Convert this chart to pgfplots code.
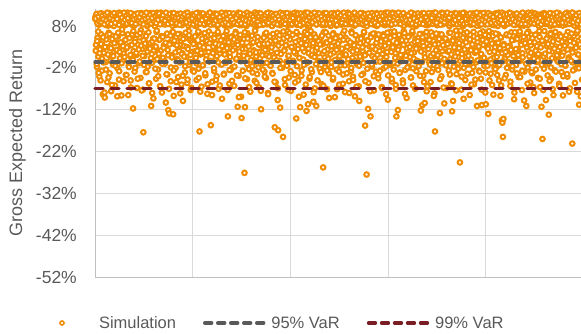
\documentclass[border=0pt]{standalone}
\usepackage{pgfplots}
\usepackage{pgfplotstable}
\pgfplotsset{compat=1.18}
\usepackage{fontspec}
\setmainfont{Liberation Sans}
\definecolor{simorange}{RGB}{240,140,0}
\definecolor{vargray}{RGB}{89,89,89}
\definecolor{varred}{RGB}{122,30,38}
\definecolor{txtgray}{RGB}{89,89,89}
\definecolor{gridgray}{RGB}{217,217,217}
\definecolor{axisgray}{RGB}{191,191,191}
\pgfplotstableread{
y
10.2
3.5
9.4
-1.8
5.2
10.9
0.7
8.3
-4.1
2.4
9.8
6.1
11.0
-2.7
4.3
-8.3
8.9
1.6
10.5
-9.1
9.2
-0.6
4.8
10.7
-5.4
2.9
8.1
6.4
11.1
-3.3
0.9
9.6
-7.6
3.8
10.3
5.7
-1.2
8.7
1.9
10.0
-6.2
4.0
9.0
2.2
10.8
-2.1
5.5
8.4
-4.8
11.2
0.3
9.5
3.1
-8.6
10.1
6.3
-0.4
8.0
1.4
9.9
4.5
10.6
-3.7
2.6
9.3
5.9
10.4
-8.5
-1.5
8.6
3.3
11.0
-5.0
0.5
9.7
6.0
8.2
-11.7
2.0
10.2
-2.9
9.1
4.9
10.9
1.1
-6.8
8.8
3.6
10.0
-0.9
5.3
9.4
-4.4
7.0
11.1
2.5
8.5
-7.2
-17.4
10.3
0.8
9.6
4.2
-3.0
10.7
6.2
8.0
-1.7
2.8
10.5
-5.7
9.2
3.9
11.0
-11.1
1.3
-8.0
8.9
5.0
9.8
-0.2
10.4
3.0
8.3
-4.6
6.6
11.2
1.8
-2.4
9.0
4.7
10.1
-6.4
2.1
8.7
5.6
-7.9
10.8
0.4
9.5
3.4
10.0
-1.0
8.4
-10.3
5.8
9.7
-3.6
2.3
-12.1
10.6
-12.9
4.1
9.1
-5.2
1.0
11.0
6.5
8.1
-13.1
-8.7
9.9
3.7
10.2
-2.0
5.4
8.6
0.1
10.9
-4.2
2.7
9.3
6.1
-0.7
10.5
4.4
-6.0
8.2
1.5
-9.9
10.4
3.2
9.0
-3.1
5.1
11.1
0.6
8.8
-5.6
2.9
9.6
6.8
-1.3
10.1
4.6
-7.3
8.5
1.7
10.7
-2.6
9.4
4.3
10.8
-0.3
2.0
8.0
5.7
-4.9
9.9
3.5
10.3
-2.2
6.4
-17.2
8.7
1.2
11.0
-6.5
4.0
9.2
-1.4
10.6
2.6
8.3
5.2
-3.8
9.7
0.9
10.0
-8.2
3.9
8.9
6.7
-0.5
11.2
4.8
-15.7
9.1
1.9
-5.3
10.5
3.1
8.4
-2.8
5.9
10.2
0.2
9.5
-4.0
2.4
10.9
6.2
-7.0
8.6
1.4
9.8
-1.1
4.5
10.4
-9.4
9.0
5.0
10.7
-3.4
2.1
8.1
6.0
-0.8
11.1
3.6
9.3
-13.6
4.7
10.0
-5.8
1.6
8.8
-2.5
5.5
9.6
-1.9
10.3
3.3
8.5
-6.3
2.8
10.8
6.6
0.0
9.1
4.2
-11.3
11.0
-3.9
1.1
8.2
5.3
9.9
-8.9
-14.0
10.1
2.5
9.4
-0.1
4.9
-27.1
-11.4
10.6
3.0
8.0
-4.7
6.3
9.7
1.3
-2.3
10.9
5.6
-7.7
8.7
3.8
9.2
-1.6
10.4
4.1
2.2
8.4
-5.1
6.9
11.2
0.7
9.0
-3.5
5.4
10.2
1.8
-6.7
8.9
3.4
9.8
-11.9
10.7
4.6
-0.9
8.3
2.7
9.5
-2.9
6.1
10.0
-4.4
1.0
11.1
5.8
-8.0
8.6
3.2
9.3
-1.2
4.4
10.5
2.0
8.1
-3.2
9.9
5.2
10.8
0.5
-16.2
8.8
-5.5
3.7
10.1
6.4
-9.7
-16.9
9.4
1.7
-0.3
-11.5
10.6
4.0
9.0
-2.0
8.5
-18.5
5.0
11.0
2.3
-6.1
9.7
3.5
10.3
-1.5
6.8
8.2
0.8
-4.3
10.9
4.8
9.1
-7.5
2.9
10.4
5.9
8.7
-0.6
9.6
3.1
-3.7
11.2
1.4
-14.1
8.3
6.2
10.0
-5.0
4.5
9.3
0.3
-11.4
10.2
3.9
-2.6
8.9
5.6
10.7
-8.4
1.9
9.5
6.6
-1.0
10.1
-12.3
4.3
8.0
-10.7
2.6
9.8
-4.6
11.0
5.3
8.6
0.9
-3.0
10.5
3.3
-10.1
9.2
6.0
-6.9
10.8
2.1
-11.1
8.4
4.7
9.9
-0.4
1.5
10.3
-2.2
9.0
5.1
10.6
-5.9
3.6
8.2
-25.8
6.5
11.1
0.6
-1.8
9.4
4.1
10.0
-7.1
2.4
8.8
5.7
-3.3
9.7
10.9
1.2
8.5
-0.7
4.9
10.2
-4.8
6.3
9.1
2.8
-9.0
10.7
3.4
8.1
-2.4
5.5
11.2
0.2
9.6
-6.0
4.4
9.3
-1.4
10.4
2.2
8.7
6.1
-3.6
10.0
1.0
9.8
-7.8
5.2
11.0
3.0
-0.9
8.4
4.6
10.6
-5.2
8.9
2.5
10.1
-2.7
6.7
9.5
0.4
-4.1
10.8
3.7
8.2
-8.8
5.8
9.2
1.6
-1.1
10.3
4.2
8.6
-6.4
-9.9
10.5
3.9
9.0
-0.2
5.4
11.1
2.0
-3.4
8.3
6.4
9.7
-15.8
1.3
10.2
-27.5
4.6
8.8
-11.8
-5.6
10.0
3.1
9.4
-13.6
5.9
10.9
-1.7
0.8
8.5
2.7
-7.4
9.9
6.2
10.4
-2.9
4.0
8.0
1.1
9.1
-4.5
10.6
5.0
-0.5
8.7
3.5
11.0
-6.6
2.3
9.3
6.0
-2.1
10.1
0.3
8.2
4.8
-8.3
9.8
1.8
10.7
-3.8
9.5
4.1
10.3
-1.3
6.6
8.4
2.6
-5.3
11.2
3.3
9.0
-0.8
5.6
10.5
1.5
-7.0
-13.6
8.9
4.3
-12.1
10.0
2.9
8.6
-3.1
5.3
9.6
-0.1
10.8
3.8
-5.0
8.1
6.8
9.2
1.2
-2.5
10.4
4.5
-9.2
8.8
2.1
9.7
-1.9
10.2
5.7
0.6
8.3
-4.3
3.6
11.1
6.3
-6.2
9.4
1.7
10.6
-0.4
4.9
8.0
-2.8
9.9
3.0
10.9
5.2
-1.0
8.5
2.4
9.1
-12.2
6.1
10.3
-10.9
4.0
-3.9
8.7
1.4
-10.4
9.6
5.5
10.1
-7.6
2.8
8.2
4.7
10.7
-0.6
3.2
9.3
-5.4
6.5
11.0
1.0
8.9
-2.3
4.4
10.0
-8.1
-17.2
9.5
2.2
5.8
10.5
-1.6
8.6
3.7
10.2
6.0
-12.8
9.0
0.5
-4.0
11.2
2.0
8.4
5.1
-0.2
-10.5
9.8
3.4
10.6
-6.8
4.6
9.2
1.9
10.4
-2.6
6.4
8.1
0.1
9.7
-5.7
3.9
-12.4
10.8
-9.9
5.0
8.7
-1.4
2.5
9.1
6.9
-3.5
10.1
4.3
8.5
-0.9
2.7
11.0
-24.6
5.7
9.4
-7.2
1.3
10.3
3.6
8.0
-2.0
6.2
9.9
-4.9
0.7
10.7
4.8
8.8
-1.2
9.5
2.2
10.0
-8.5
5.9
8.3
0.0
10.9
-3.2
3.1
9.2
6.6
-5.9
10.5
1.6
8.6
-0.7
9.6
-11.1
4.2
10.2
2.6
-2.7
8.1
5.4
11.1
-4.6
0.9
-10.9
9.0
6.7
3.5
10.6
-1.5
8.4
-7.9
-10.7
10.0
3.0
9.3
-0.4
-13.0
5.6
10.8
1.8
8.7
-3.4
4.5
9.8
-6.1
6.3
10.4
0.4
8.2
-2.1
2.9
9.1
11.0
4.0
-1.7
8.9
6.0
10.3
-5.0
2.3
9.5
-8.7
5.2
10.7
-14.5
-15.1
-18.5
-14.2
3.7
8.0
0.2
9.7
-3.7
10.1
5.8
8.5
1.1
9.2
-0.8
11.2
3.3
-6.3
8.8
6.5
10.6
-2.4
2.0
9.4
4.7
-9.5
10.0
0.6
8.3
-1.3
9.9
5.3
10.5
2.5
-4.2
8.6
6.1
9.0
-0.3
3.9
10.8
-7.3
1.5
9.6
4.6
8.1
-2.9
10.2
5.0
9.3
-11.1
2.8
10.9
-1.9
6.7
8.4
0.8
10.0
-5.5
3.4
9.7
5.9
-3.3
11.1
1.4
8.7
-8.0
4.1
10.4
2.1
8.9
-0.6
6.2
9.5
-4.4
3.6
10.7
5.4
-6.6
8.2
1.0
-11.3
9.1
-19.0
4.4
10.1
-2.2
6.8
8.6
0.3
-9.7
10.6
3.2
9.2
-1.0
5.7
-13.2
10.3
2.6
8.0
-4.7
6.4
11.0
1.9
-7.1
9.8
4.9
8.5
-2.6
10.0
3.1
9.4
5.5
-0.2
10.8
2.2
8.3
-5.8
6.0
9.7
0.9
10.5
-3.0
4.3
8.8
-8.6
1.7
9.1
10.2
5.1
-1.5
8.4
3.8
11.2
-4.1
6.6
9.0
0.5
10.6
-6.9
2.4
8.7
4.7
9.6
-20.1
-0.7
10.1
5.6
8.1
-2.3
9.3
3.0
10.9
6.3
-7.7
1.2
9.9
4.5
-10.8
8.6
-0.4
10.4
2.9
5.2
-4.8
9.2
6.9
10.0
9.7
2.1
10.6
-1.1
4.4
8.5
6.7
-3.2
10.1
1.5
9.2
-5.0
3.7
11.0
0.2
8.8
5.3
-0.7
9.9
-7.9
3.0
10.4
-2.4
8.2
5.8
9.5
1.2
-4.3
10.9
6.1
8.6
-0.3
2.7
9.1
-6.1
4.9
10.3
0.8
8.0
3.9
10.7
-1.5
5.5
9.3
2.3
-8.8
8.9
6.4
11.1
-2.8
1.8
9.8
4.1
10.2
-0.9
7.2
8.4
3.2
-5.2
9.6
0.6
10.0
4.7
8.3
-3.7
2.9
11.2
6.0
9.0
-1.8
5.1
10.5
1.1
-6.7
8.7
3.5
9.4
-0.1
6.8
10.8
8.1
4.2
-2.0
9.7
1.6
10.3
5.9
-4.6
8.9
2.4
11.0
-0.5
6.3
9.2
3.3
-7.4
10.6
0.9
8.5
4.6
-1.3
9.5
3.8
10.1
5.6
-3.0
8.2
1.9
10.8
6.5
-5.7
9.0
2.6
11.1
0.3
8.6
-0.8
4.3
9.9
-9.3
10.4
5.0
8.0
-2.2
3.1
9.6
6.9
0.1
10.2
-4.0
1.4
8.8
4.8
-6.4
11.2
2.2
9.3
-1.0
5.4
10.0
2.8
8.4
-0.4
10.7
4.0
9.1
-3.5
6.2
8.7
1.0
10.5
-7.0
3.6
9.8
5.7
-1.9
11.0
0.5
8.1
6.6
9.4
-2.6
4.5
10.9
1.7
8.3
-5.4
3.4
10.1
6.1
-0.2
9.7
2.0
8.5
-8.1
5.2
10.4
1.3
9.0
-3.9
4.9
10.6
0.7
8.9
-1.6
6.4
9.2
3.0
11.1
-4.8
2.5
8.0
5.8
10.3
-0.6
1.1
9.5
-6.8
4.2
10.8
8.6
3.7
-2.9
9.9
5.5
10.2
0.4
-0.9
8.2
2.1
11.2
6.7
-4.4
9.4
3.3
-7.7
10.7
1.6
8.8
5.0
-1.4
9.1
2.9
10.0
6.3
-3.3
8.5
0.0
10.6
4.4
-5.9
9.7
1.8
11.0
3.9
-0.3
8.3
6.0
9.2
-8.5
10.1
1.5
8.9
-2.1
5.1
9.6
3.8
-4.9
10.9
0.8
8.0
6.6
-0.7
9.3
2.4
-6.2
10.5
4.6
8.7
-1.2
3.2
10.8
5.6
-3.6
9.0
1.2
11.1
-0.5
8.4
6.8
2.7
-7.3
9.8
4.1
10.3
-2.5
0.6
8.1
5.3
9.5
-5.1
10.0
2.2
8.6
4.8
-1.7
9.4
6.2
10.7
0.2
-3.8
8.9
3.5
11.2
-9.0
1.9
9.1
5.9
-0.4
10.4
8.2
4.0
-2.7
9.7
0.9
10.1
6.5
-4.5
8.5
2.6
11.0
-1.1
5.0
9.3
3.1
-6.6
10.6
1.4
8.8
-0.1
9.6
5.7
-3.1
10.2
2.0
8.3
-0.6
6.9
9.9
1.7
-5.6
10.8
4.3
8.1
-1.9
3.6
11.1
0.3
9.0
-7.5
4.7
10.5
1.0
-2.4
8.7
5.2
9.4
-4.1
2.3
10.0
6.4
-0.8
8.4
3.8
-8.3
11.2
0.7
9.2
5.5
-1.5
10.3
2.9
8.0
-3.4
6.1
9.8
0.5
-5.3
10.9
4.5
8.6
-0.2
1.6
9.5
-6.9
3.3
10.7
5.8
8.2
-2.0
1.3
9.1
4.0
10.4
-1.0
6.7
8.9
2.1
-4.7
11.0
3.4
9.6
-0.5
5.4
10.1
-7.2
0.9
8.5
6.3
9.7
-2.8
10.6
3.0
8.3
5.9
-0.3
9.0
1.8
10.2
-5.5
4.2
8.7
6.6
-1.6
11.1
2.5
9.4
-8.9
0.4
10.0
5.6
8.1
-3.9
9.9
2.7
10.8
0.0
-1.3
8.6
4.9
11.2
-6.0
3.5
9.3
6.1
-0.7
10.5
1.5
8.0
-4.2
9.2
6.8
-2.3
10.3
1.1
8.8
3.9
-7.8
9.6
0.6
10.9
5.3
-1.1
8.4
2.8
-5.0
11.0
4.4
9.1
-0.4
3.6
10.1
-3.0
8.5
5.7
9.7
1.4
-6.3
10.6
2.0
8.2
-0.9
6.5
9.0
4.0
-2.6
10.4
0.2
8.9
-9.2
10.7
4.6
8.0
-1.8
3.2
9.5
6.0
-4.4
11.1
1.7
8.6
-0.1
5.1
10.0
2.3
-7.1
9.3
3.8
10.8
-2.9
0.8
9.8
5.5
-0.6
8.3
2.6
10.2
-5.8
4.7
9.0
6.9
-1.4
10.5
1.2
8.7
-3.3
3.0
11.2
0.1
9.4
-8.0
10.0
4.1
8.4
-2.0
6.3
9.6
1.9
-4.9
10.9
3.4
8.1
-0.3
5.8
9.1
-6.5
2.2
10.3
4.8
8.8
-1.5
9.5
0.7
10.6
5.0
-3.7
8.5
2.9
11.0
-0.8
6.6
9.2
1.0
-5.2
10.1
3.7
8.0
-2.2
4.5
9.9
10.4
1.6
8.9
-7.6
5.3
9.7
-1.2
3.1
10.8
6.2
-4.0
8.3
0.3
9.4
2.4
-0.5
11.1
4.9
8.6
-3.5
6.0
10.2
2.0
-2.7
9.0
4.3
10.5
-6.8
1.3
8.4
5.6
-0.2
9.8
3.3
11.2
-1.7
0.6
8.7
6.4
-9.6
9.3
3.9
10.0
-0.9
5.2
8.2
1.8
-4.6
10.7
2.9
9.5
-2.4
6.7
8.8
0.4
-6.1
11.0
4.0
9.1
-1.0
2.3
10.3
5.9
-3.2
8.6
1.1
9.9
-0.4
4.6
10.6
-5.7
3.5
8.1
6.3
-8.2
9.6
0.9
10.1
2.7
-1.9
8.5
5.4
-0.7
9.2
3.0
11.1
-4.3
1.5
8.9
6.8
-2.1
10.4
0.2
9.7
4.2
-7.0
8.0
2.6
10.9
-0.3
4.4
9.4
-1.6
10.2
6.1
-3.9
8.7
1.9
11.0
-0.6
5.3
9.0
3.2
-5.4
10.5
0.5
8.3
-2.8
6.6
9.8
-6.4
10.7
2.5
8.4
4.7
-1.2
9.3
0.8
10.1
-3.0
5.7
8.9
1.4
-8.7
11.2
3.6
9.5
-0.1
6.2
10.0
8.2
1.0
-2.5
9.6
4.9
10.8
-4.7
2.8
8.6
6.0
-0.9
10.3
3.4
-6.7
9.1
0.1
11.0
5.0
-1.4
8.8
9.9
3.7
-0.5
10.6
2.1
8.0
-3.6
6.4
9.4
1.2
-5.9
10.2
4.5
8.5
-1.7
2.9
11.1
0.7
9.2
-7.4
5.8
10.4
1.6
-2.2
8.9
3.9
9.7
-0.3
6.9
10.9
-4.1
0.3
8.2
5.2
-9.4
11.2
2.4
9.0
-1.1
4.1
10.1
6.5
-3.4
8.7
0.9
9.5
-0.8
4.8
10.5
2.2
-6.0
8.4
3.6
11.0
-1.8
5.5
9.3
1.7
-4.8
10.7
2.0
8.1
5.1
-0.2
9.8
3.1
10.0
-2.9
6.3
8.6
1.3
-7.2
10.6
4.7
9.1
-0.6
0.4
11.1
5.9
-3.1
9.0
4.3
10.3
-1.5
2.6
8.8
6.8
-5.0
9.6
0.0
10.8
-0.9
3.8
8.3
5.6
-8.4
10.1
1.9
9.4
-2.3
6.2
10.5
0.6
-3.7
8.0
4.0
11.2
-1.3
2.7
9.7
5.3
-6.2
10.2
1.5
8.6
-0.4
3.4
9.2
-4.5
10.9
1.8
8.4
6.0
-2.0
9.9
3.0
10.6
-0.7
5.7
8.9
-5.3
2.3
11.0
4.6
-1.6
9.3
0.8
10.0
-7.9
6.5
10.4
2.5
8.7
-3.3
4.9
9.5
1.1
-0.1
10.7
6.7
-4.2
8.1
3.5
9.8
-2.7
0.5
11.1
5.4
-9.8
8.5
3.9
10.2
-1.0
9.1
6.3
-5.8
8.3
2.0
10.9
-0.6
4.2
9.6
1.6
-3.0
11.2
5.1
8.8
-6.6
0.2
10.0
8.6
5.9
-2.4
10.5
3.2
9.3
-0.2
1.3
8.0
6.8
-4.6
10.1
2.9
9.7
-1.3
4.5
10.8
-7.3
0.7
9.0
11.0
1.4
-0.8
8.5
5.0
9.9
-3.8
3.7
10.3
2.1
-5.1
8.7
6.1
-1.9
9.4
0.3
10.6
4.3
-8.5
8.2
2.6
9.8
6.6
-2.9
10.0
1.0
8.9
-0.5
4.8
11.1
-6.4
3.0
9.2
5.5
-1.1
10.4
0.9
8.1
-4.0
9.6
10.7
3.3
-1.4
8.4
5.8
9.0
-3.5
2.4
10.2
0.1
-7.7
9.5
4.4
8.6
-0.3
6.2
11.2
1.7
-2.6
10.0
4.0
8.9
-5.6
10.6
2.8
9.3
-0.9
6.9
8.2
1.2
-2.1
10.9
3.6
9.7
-8.8
5.0
10.3
0.5
-1.6
8.7
9.8
10.9
8.6
10.3
9.1
11.0
8.9
10.5
9.6
8.4
10.8
9.3
11.2
8.7
10.1
9.9
8.5
10.6
9.4
11.1
8.8
10.2
9.7
11.0
8.3
10.7
9.2
10.0
8.9
11.2
9.5
10.4
8.6
9.9
10.8
9.0
11.1
8.7
10.3
9.6
10.6
8.5
9.8
11.0
9.3
10.1
8.8
10.9
9.4
8.4
10.5
9.7
11.2
8.9
10.0
9.1
10.7
8.6
9.9
11.1
9.0
10.4
8.7
10.8
9.5
11.0
8.4
10.2
9.8
10.6
8.9
9.3
11.2
10.1
8.5
9.7
10.9
9.2
8.8
10.5
11.1
9.4
10.0
8.6
10.7
9.9
8.3
11.0
9.6
10.3
8.7
10.8
9.1
8.9
11.2
10.4
9.5
8.5
10.1
9.8
8.4
10.6
9.2
11.1
8.8
9.9
10.3
8.6
10.9
9.4
11.0
8.5
10.2
9.7
8.9
10.7
9.0
11.2
9.6
10.0
10.4
8.7
11.0
9.3
10.8
8.3
9.8
10.1
9.1
11.2
8.6
10.5
9.5
8.9
10.9
9.7
8.4
11.1
10.2
9.0
9.5
11.0
8.8
10.3
9.9
8.5
10.7
9.2
11.1
8.6
10.0
9.6
10.9
8.4
9.3
11.2
10.5
8.9
9.8
10.6
8.9
10.1
9.4
11.2
8.7
10.8
9.0
10.4
8.3
11.0
9.7
10.2
8.5
9.9
10.6
9.1
11.1
8.8
10.0
9.6
11.0
9.3
10.5
8.6
9.8
10.9
8.4
10.3
9.5
11.2
8.8
10.7
9.1
10.0
8.5
9.6
11.1
10.2
8.9
9.4
10.2
8.5
9.9
11.1
9.0
10.6
8.7
10.9
9.6
8.3
11.0
9.2
10.4
8.8
9.7
10.8
9.3
11.2
8.6
10.1
9.1
10.7
8.9
10.0
11.2
9.5
8.4
10.5
9.8
11.0
8.7
10.3
9.4
8.6
10.9
9.9
11.1
8.5
10.2
9.7
8.6
11.0
9.6
10.4
8.9
10.8
9.3
8.3
11.1
10.1
9.0
10.6
8.8
9.7
11.2
10.3
8.5
9.5
10.9
9.2
10.9
9.0
8.7
10.5
9.9
11.2
8.4
10.0
9.4
10.7
8.9
11.1
9.6
8.6
10.3
9.1
10.8
8.8
9.8
11.0
9.7
10.3
8.5
11.1
9.2
10.6
8.8
9.9
10.9
8.3
10.1
9.5
11.0
8.7
10.4
9.3
8.9
10.8
9.6
11.2
8.8
9.9
10.7
8.4
11.0
9.4
10.2
8.6
10.8
9.7
11.2
9.0
8.5
10.5
9.8
11.1
8.9
10.0
9.3
10.6
10.5
8.9
9.5
11.2
8.6
10.1
9.8
10.9
8.4
9.2
11.0
10.3
8.7
9.6
10.7
8.5
11.1
9.4
10.0
9.1
9.3
11.1
8.7
10.4
9.9
8.5
10.8
9.0
11.2
8.8
10.2
9.7
10.6
8.3
9.5
11.0
10.1
8.9
9.8
10.7
11.2
9.6
10.0
8.6
10.9
9.1
8.8
10.5
9.4
11.0
8.4
10.3
9.9
8.7
10.8
9.2
11.1
8.5
10.1
9.7
8.7
10.6
9.3
11.0
8.9
9.8
10.4
8.5
10.9
9.6
11.2
8.8
10.0
9.1
10.7
8.4
9.5
11.1
10.2
9.0
10.0
8.4
11.1
9.5
10.6
8.8
9.9
10.2
9.2
11.0
8.6
10.8
9.7
8.9
10.3
9.4
11.2
8.5
10.7
9.8
9.4
10.8
8.6
9.9
11.1
8.9
10.3
9.6
8.3
10.7
9.1
11.0
10.0
8.7
9.8
10.5
8.5
11.2
9.3
10.1
8.5
10.2
9.7
11.2
9.0
10.7
8.8
10.1
9.5
8.6
11.0
9.3
10.6
8.9
10.4
9.9
8.4
10.9
9.2
11.1
10.8
9.2
8.9
10.5
9.6
11.1
8.6
10.0
9.3
10.9
8.4
9.8
11.2
10.2
8.7
9.5
10.6
9.0
8.8
10.3
9.9
11.0
8.7
10.4
9.4
8.5
10.8
9.1
11.2
8.9
10.1
9.7
10.6
8.6
9.3
11.1
10.3
8.4
9.6
10.0
}\simdata
\begin{document}
\begin{tikzpicture}
\begin{axis}[
  set layers,
  at={(95pt,56pt)}, anchor=south west,
  scale only axis, width=488.5pt, height=267.7pt,
  xmin=0, xmax=1000, ymin=-52, ymax=12,
  xtick={0,200,...,1000}, xticklabels={},
  ytick={-52,-42,...,8},
  yticklabel={\pgfmathprintnumber{\tick}\%},
  /pgf/number format/assume math mode=true,
  major tick length=0pt,
  grid=major,
  major grid style={draw=gridgray, line width=1pt},
  axis x line*=bottom, axis y line*=left,
  axis line style={draw=axisgray, line width=1pt, -},
  ticklabel style={font=\fontsize{17.5}{20}\selectfont, text=txtgray},
  yticklabel style={inner sep=0pt, xshift=-18pt},
  ylabel={Gross Expected Return},
  ylabel style={font=\fontsize{18}{21}\selectfont, text=txtgray,
    at={(axis description cs:-0.1586,0.5)}, anchor=center},
  legend columns=3,
  legend style={at={(axis description cs:-0.131,-0.1718)}, anchor=west,
    draw=none, fill=none, inner sep=0pt, outer sep=0pt,
    font=\fontsize{16.5}{19}\selectfont, text=txtgray,
    nodes={inner sep=0pt},
    /tikz/every odd column/.append style={column sep=6pt},
    /tikz/every even column/.append style={column sep=27pt}},
]
\addplot[only marks, mark=*, mark size=2.3pt,
  mark options={draw=simorange, fill=white, line width=2pt},
  legend image code/.code={\path[draw=none, fill=none] (0pt,0pt) -- (62pt,0pt);
    \path[draw=simorange, fill=white, line width=1.6pt] (31pt,0pt) circle (2pt);}]
  table[x expr={\coordindex<1000 ? \coordindex+1 : (\coordindex<2000 ? \coordindex-999.5 : 2*\coordindex-3998.75)}, y=y] {\simdata};
\addlegendentry{Simulation}
\addplot[on layer=axis foreground, draw=vargray, line width=3.3pt, line cap=round, dash pattern=on 8pt off 8pt,
  legend image code/.code={\path[draw=vargray, line width=3.3pt, line cap=round, dash pattern=on 7pt off 6pt] (1.5pt,0pt) -- (60.5pt,0pt);}]
  coordinates {(0,-0.6) (1000,-0.6)};
\addlegendentry{95\% VaR}
\addplot[on layer=axis foreground, draw=varred, line width=3.3pt, line cap=round, dash pattern=on 8pt off 8pt,
  legend image code/.code={\path[draw=varred, line width=3.3pt, line cap=round, dash pattern=on 7pt off 6pt] (1.5pt,0pt) -- (60.5pt,0pt);}]
  coordinates {(0,-7.0) (1000,-7.0)};
\addlegendentry{99\% VaR}
\end{axis}
\pgfresetboundingbox
\useasboundingbox (0,0) rectangle (581pt,333pt);
\end{tikzpicture}
\end{document}
